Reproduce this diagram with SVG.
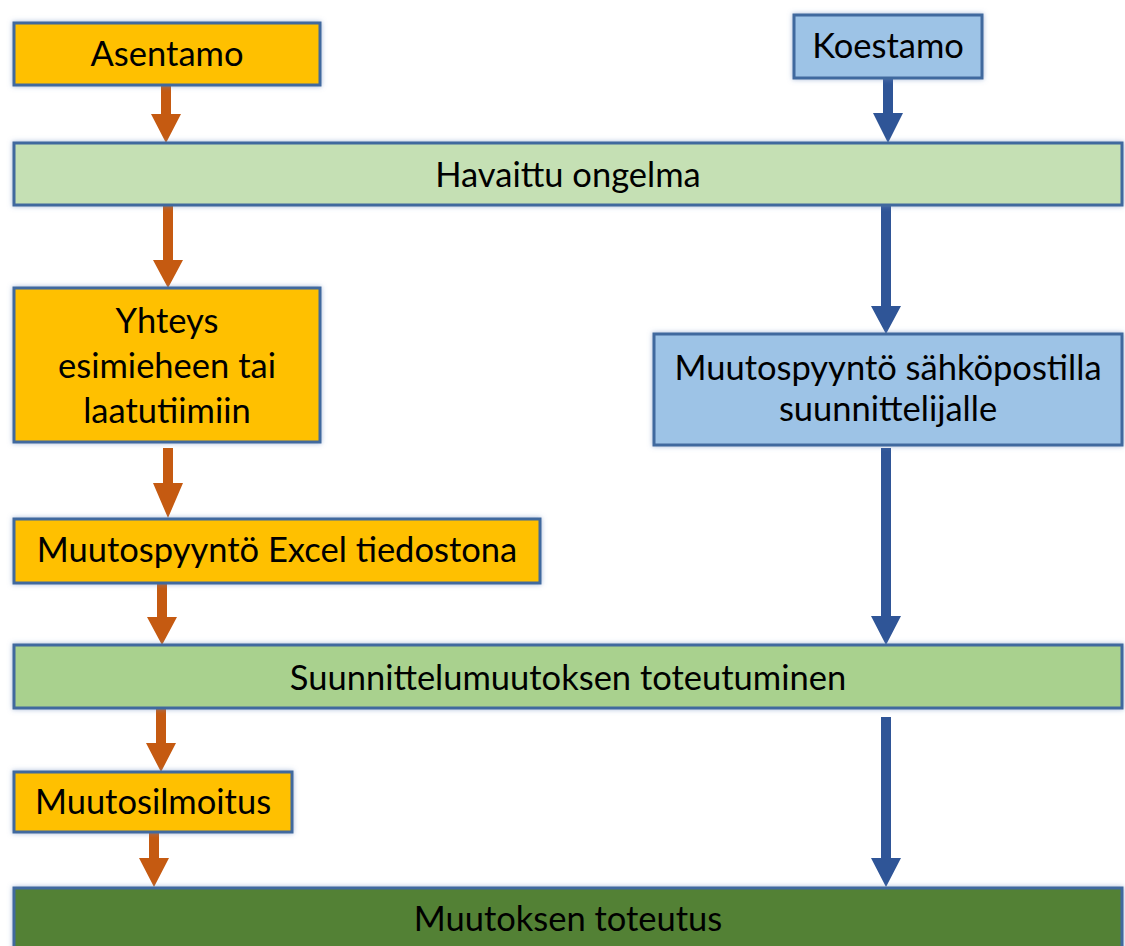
<svg xmlns="http://www.w3.org/2000/svg" width="1125" height="946" viewBox="0 0 1125 946">
<style>
.box{stroke:#41699E;stroke-width:3;filter:url(#glow)}
.org{fill:#FFC000}
.blu{fill:#9DC3E6}
.lg{fill:#C5E0B4}
.mg{fill:#A9D18E}
.dg{fill:#538135}
.t{font-family:Lato,"Open Sans","Liberation Sans",sans-serif;font-size:34.5px;fill:#000;text-anchor:middle}
.ao{fill:#C55A11}
.ab{fill:#2F5597}
</style>
<defs>
<filter id="glow" x="-5%" y="-20%" width="110%" height="140%">
<feGaussianBlur in="SourceAlpha" stdDeviation="2.5" result="b"/>
<feFlood flood-color="#6A8CC0" flood-opacity="0.6"/>
<feComposite in2="b" operator="in" result="g"/>
<feMerge><feMergeNode in="g"/><feMergeNode in="SourceGraphic"/></feMerge>
</filter>
</defs>
<rect width="1125" height="946" fill="#fff"/>
<g id="connectors">
<path class="ao" d="M161,85H171V114H181L166,143L151,114H161Z"/>
<path class="ab" d="M883,78H893V113H903L888,143L873,113H883Z"/>
<path class="ao" d="M163,205H173V260H183L168,288L153,260H163Z"/>
<path class="ab" d="M881,205H891V306H901L886,334L871,306H881Z"/>
<path class="ab" d="M881,448H891V616H901L886,645L871,616H881Z"/>
<path class="ao" d="M163,448H173V483H183L168,518L153,483H163Z"/>
<path class="ao" d="M157,583H167V617H177L162,645L147,617H157Z"/>
<path class="ao" d="M156,708H166V743H176L161,772L146,743H156Z"/>
<path class="ao" d="M149,832H159V858H169L154,887L139,858H149Z"/>
<path class="ab" d="M881,717H891V858H901L886,887L871,858H881Z"/>
</g>
<g id="asentamo"><rect class="box org" x="14" y="23" width="306" height="62"/><text class="t" x="167" y="66">Asentamo</text></g>
<g id="koestamo"><rect class="box blu" x="794" y="15" width="188" height="63"/><text class="t" x="888" y="58">Koestamo</text></g>
<g id="havaittu"><rect class="box lg" x="14" y="143" width="1108" height="62"/><text class="t" x="568" y="187">Havaittu ongelma</text></g>
<g id="yhteys"><rect class="box org" x="14" y="288" width="306" height="154"/><text class="t" x="167" y="333">Yhteys</text><text class="t" x="167" y="378">esimieheen tai</text><text class="t" x="167" y="423">laatutiimiin</text></g>
<g id="sahkoposti"><rect class="box blu" x="654" y="334" width="468" height="111"/><text class="t" x="888" y="380">Muutospyyntö sähköpostilla</text><text class="t" x="888" y="421">suunnittelijalle</text></g>
<g id="excel"><rect class="box org" x="14" y="519" width="526" height="64"/><text class="t" x="277" y="562">Muutospyyntö Excel tiedostona</text></g>
<g id="suunnittelu"><rect class="box mg" x="14" y="645" width="1108" height="63"/><text class="t" x="568" y="690">Suunnittelumuutoksen toteutuminen</text></g>
<g id="ilmoitus"><rect class="box org" x="14" y="772" width="278" height="60"/><text class="t" x="153" y="814">Muutosilmoitus</text></g>
<g id="toteutus"><rect class="box dg" x="14" y="888" width="1108" height="70"/><text class="t" x="568" y="931">Muutoksen toteutus</text></g>
</svg>
